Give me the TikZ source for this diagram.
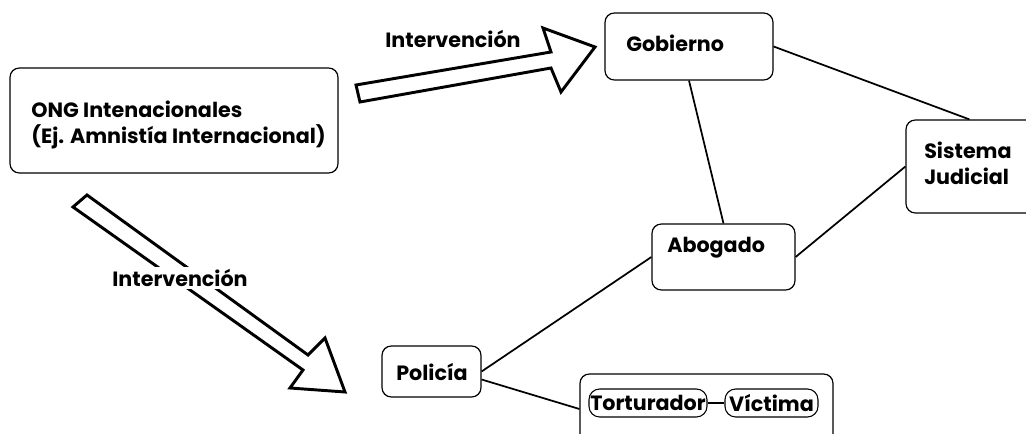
\documentclass[tikz,border=0pt]{standalone}
\usepackage{fontspec}
\setmainfont{Poppins}
\usetikzlibrary{calc}
\tikzset{
  box/.style={draw, line width=0.9pt, rounded corners=7pt, inner sep=0pt},
  pill/.style={draw, line width=0.8pt, rounded corners=8pt, inner sep=0pt, minimum height=21pt, font=\fontsize{15.5}{18}\selectfont\bfseries},
  txt/.style={inner sep=0pt, anchor=west, align=left, font=\fontsize{15.5}{19.5}\selectfont\bfseries},
  bigarrow/.style={draw, line width=2.2pt, line join=miter, fill=white},
  conn/.style={line width=1.3pt},
}
\begin{document}
\begin{tikzpicture}[x=0.75pt,y=-0.75pt]
\useasboundingbox (0,0) rectangle (1026,434);
\clip (0,0) rectangle (1026,434);
% boxes
\node[box, minimum width=328*0.75pt, minimum height=105*0.75pt] (ong) at (174,120.5) {};
\node[box, minimum width=168*0.75pt, minimum height=67*0.75pt] (gob) at (689,46.5) {};
\node[box, minimum width=134*0.75pt, minimum height=93*0.75pt] (sis) at (973,166.5) {};
\node[box, minimum width=143*0.75pt, minimum height=66*0.75pt] (ab) at (723.5,257) {};
\node[box, minimum width=99*0.75pt, minimum height=51*0.75pt] (pol) at (431.5,371.5) {};
\node[box, minimum width=253*0.75pt, minimum height=70*0.75pt] (cont) at (706.5,409) {};
% texts
\node[txt] (ongt) at (31,125) {ONG Intenacionales\\(Ej. Amnistía Internacional)};
\node[txt] (gobt) at (626,43) {Gobierno};
\node[txt] (sist) at (924,163.5) {Sistema\\Judicial};
\node[txt] (abt) at (667,248) {Abogado};
\node[txt] (polt) at (396,372) {Policía};
% pills
\node[pill, minimum width=118*0.75pt] (tor) at (648,403) {Torturador};
\node[pill, minimum width=93*0.75pt] (vic) at (771.5,403) {Víctima};
% connectors
\draw[conn] (gob.east) -- ($(sis.north west)+(64,0)$);
\draw[conn] (gob.south) -- (ab.north);
\draw[conn] (ab.east) -- (sis.west);
\draw[conn] (pol.east) -- (ab.west);
\draw[conn] ($(pol.east)+(0,8)$) -- (cont.west);
\draw[conn] ($(ab.south)+(-1.5,0)$) -- ($(ab.south)+(-1.5,0)$ |- cont.north);
\draw[conn] (tor.east) -- (vic.west);
% big arrows
\draw[bigarrow] (356,85) -- (551,52) -- (543,28) -- (595,47) -- (561,92) -- (551,68) -- (360,102) -- cycle;
\draw[bigarrow] (87,195) -- (308,355) -- (325,338) -- (345,392) -- (290,388) -- (303,370) -- (73,207) -- cycle;
\node[txt, anchor=center] (lab1) at (453,39) {Intervención};
\node[txt, anchor=center, fill=white, inner sep=2pt] (lab2) at (180,278) {Intervención};
\end{tikzpicture}
\end{document}
